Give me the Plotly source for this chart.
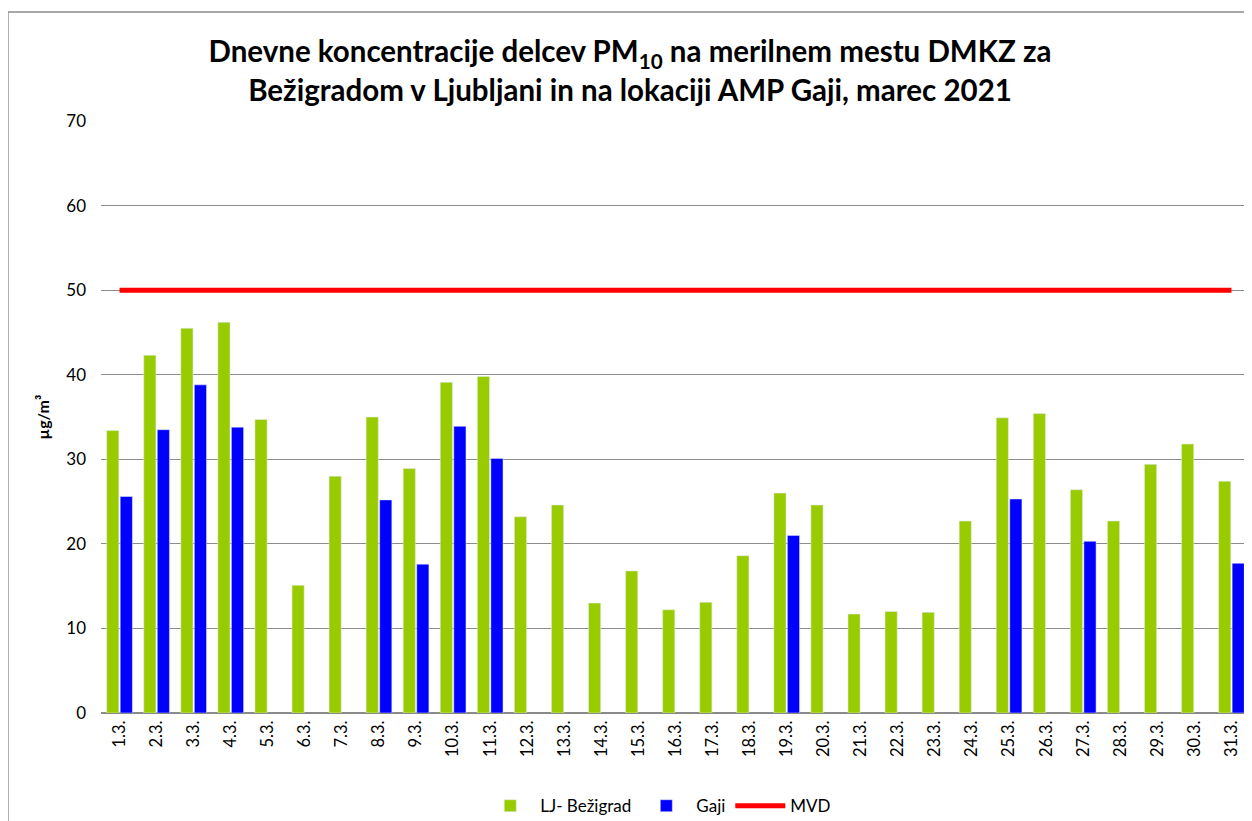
import plotly.graph_objects as go

days = [f"{d}.3." for d in range(1, 32)]

bezigrad = [33.4, 42.3, 45.5, 46.2, 34.7, 15.1, 28.0, 35.0, 28.9, 39.1, 39.8,
            23.2, 24.6, 13.0, 16.8, 12.2, 13.1, 18.6, 26.0, 24.6, 11.7, 12.0,
            11.9, 22.7, 34.9, 35.4, 26.4, 22.7, 29.4, 31.8, 27.4]

gaji = [25.6, 33.5, 38.8, 33.8, None, None, None, 25.2, 17.6, 33.9, 30.1,
        None, None, None, None, None, None, None, 21.0, None, None, None,
        None, None, 25.3, None, 20.3, None, None, None, 17.7]

mvd = [50] * len(days)

font = "Lato, 'Open Sans', sans-serif"

fig = go.Figure()
fig.add_trace(go.Bar(name="LJ- Bežigrad", x=days, y=bezigrad, marker_color="#99cc00"))
fig.add_trace(go.Bar(name="Gaji", x=days, y=gaji, marker_color="#0000ff"))
fig.add_trace(go.Scatter(name="MVD", x=days, y=mvd, mode="lines",
                         line=dict(color="#ff0000", width=5)))

# page body adds an 8px offset, so the figure is 8px smaller each way
fig.update_layout(
    width=1244, height=813,
    margin=dict(l=93, r=2, t=113, b=108, autoexpand=False),
    paper_bgcolor="white", plot_bgcolor="white",
    font=dict(family=font, size=17, color="black"),
    title=dict(
        text="<b>Dnevne koncentracije delcev PM<sub>10</sub> na merilnem mestu DMKZ za<br>"
             "Bežigradom v Ljubljani in na lokaciji AMP Gaji, marec 2021</b>",
        x=0.5, xanchor="center", y=0.933, yanchor="top",
        font=dict(size=29.5, family=font),
    ),
    barmode="group", bargap=0.27, bargroupgap=0.1,
    legend=dict(orientation="h", x=0.485, xanchor="center", y=-0.127, yanchor="top",
                font=dict(size=17), itemwidth=50),
    xaxis=dict(tickangle=-90, tickfont=dict(size=16.5), showline=True,
               linecolor="#888888", ticks="", showgrid=False, automargin=False),
    yaxis=dict(range=[0, 70], dtick=10, showgrid=True, gridcolor="#8c8c8c",
               gridwidth=1, zeroline=True, zerolinecolor="#8c8c8c",
               ticks="", ticklen=0, automargin=False, tickfont=dict(size=17),
               ticklabelstandoff=14,
               title=dict(text="<b>µg/m³</b>", font=dict(size=16), standoff=12)),
    shapes=[dict(type="rect", xref="paper", yref="paper",
                 x0=-0.081, x1=1.1, y0=-0.4, y1=1.184,
                 line=dict(color="#8c8c8c", width=1.5), layer="below")],
)

fig.write_html("out.html")
